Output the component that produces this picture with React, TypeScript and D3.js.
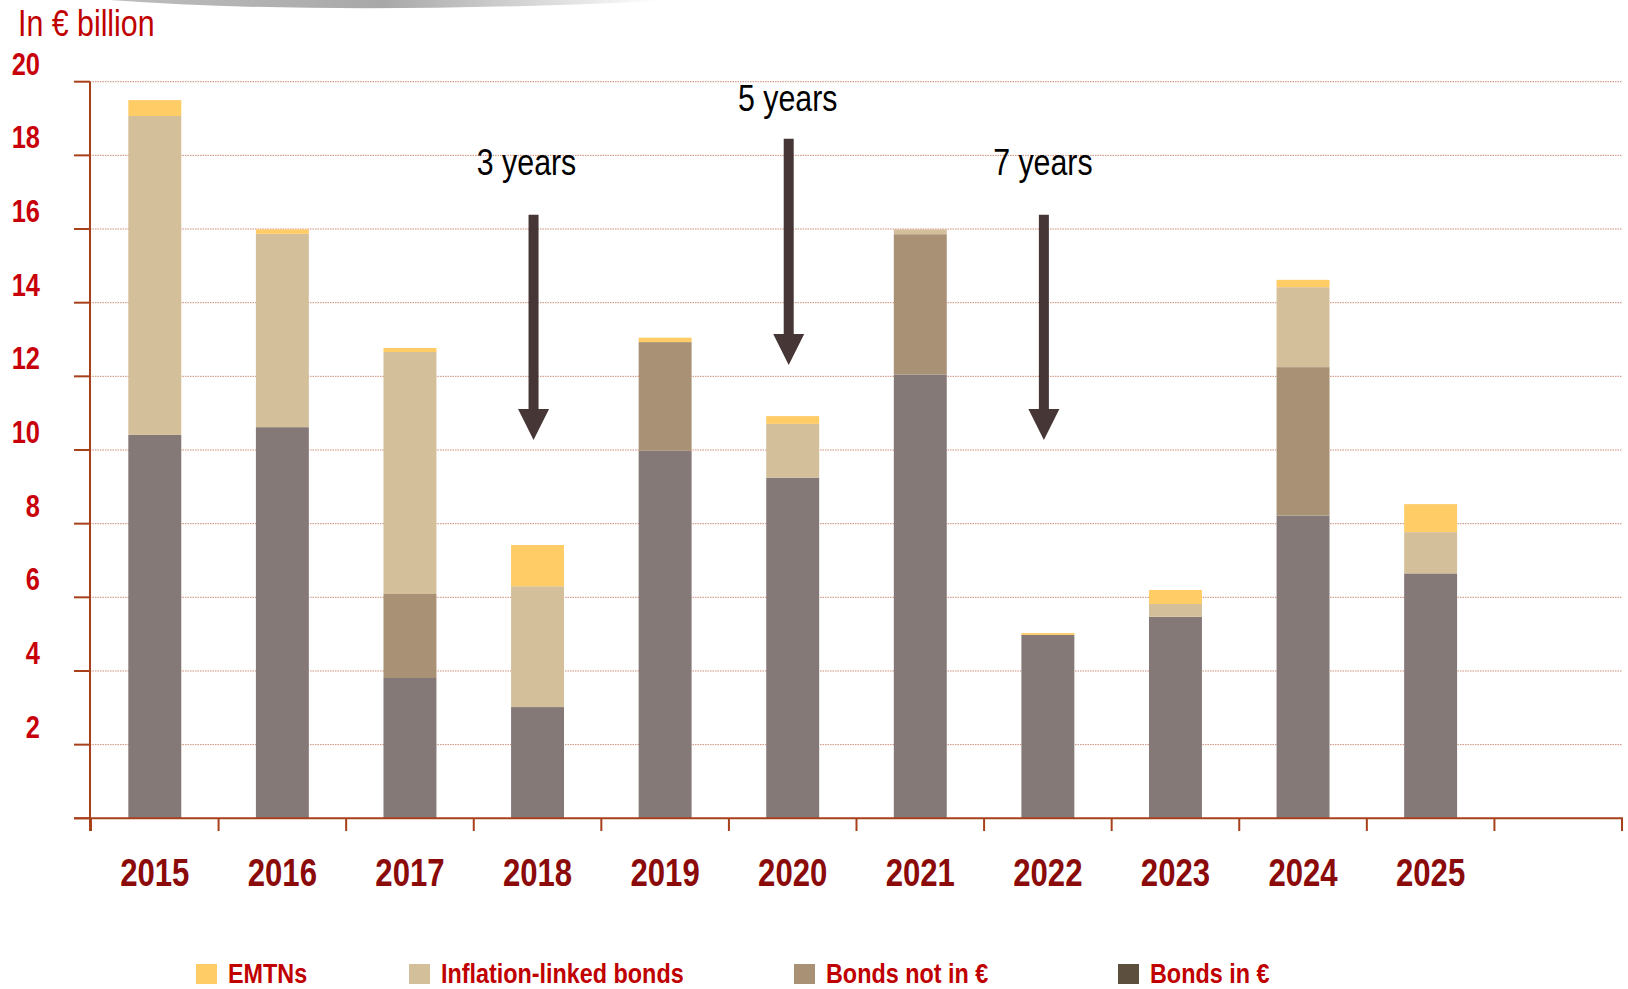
import React from "react";
import * as d3 from "d3";

const years = ["2015", "2016", "2017", "2018", "2019", "2020", "2021", "2022", "2023", "2024", "2025"];
const slots = [...years, ""];
const bondsEur = [10.41, 10.62, 3.81, 3.02, 9.98, 9.25, 12.05, 4.98, 5.47, 8.22, 6.65];
const bondsNotEur = [0, 0, 2.28, 0, 2.95, 0, 3.81, 0, 0, 4.03, 0];
const inflationLinked = [8.66, 5.25, 6.57, 3.28, 0, 1.46, 0.13, 0, 0.35, 2.17, 1.12];
const emtns = [0.43, 0.12, 0.11, 1.12, 0.12, 0.21, 0, 0.05, 0.38, 0.2, 0.76];
const yTicks = [2, 4, 6, 8, 10, 12, 14, 16, 18, 20];
const gridTicks = [0, 2, 4, 6, 8, 10, 12, 14, 16, 18, 20];

const seriesKeys = ["bondsEur", "bondsNotEur", "inflation", "emtn"];
const barColors: Record<string, string> = {
  bondsEur: "#857978",
  bondsNotEur: "#a89175",
  inflation: "#d4bf9b",
  emtn: "#ffcc66",
};
const legendItems = [
  { label: "EMTNs", color: "#ffcc66" },
  { label: "Inflation-linked bonds", color: "#d4bf9b" },
  { label: "Bonds not in €", color: "#a89175" },
  { label: "Bonds in €", color: "#5c4f3d" },
];
const annotations = [
  { year: "2018", label: "3 years", labelAt: 17.47, from: 16.39, to: 10.27, dx: -7 },
  { year: "2020", label: "5 years", labelAt: 19.21, from: 18.45, to: 12.31, dx: -1 },
  { year: "2022", label: "7 years", labelAt: 17.47, from: 16.39, to: 10.27, dx: -1 },
];

const W = 1628;
const H = 989;
const FONT = "'Liberation Sans', Arial, sans-serif";
const SX = 0.82;

function NText(props: {
  x: number;
  y: number;
  anchor?: string;
  size: number;
  bold?: boolean;
  fill: string;
  children: React.ReactNode;
}) {
  return (
    <text
      transform={`translate(${props.x},${props.y}) scale(${SX},1)`}
      textAnchor={props.anchor || "start"}
      fill={props.fill}
      fontFamily={FONT}
      fontWeight={props.bold ? "bold" : "normal"}
      fontSize={props.size}
    >
      {props.children}
    </text>
  );
}

export default function App() {
  const x = d3.scaleBand<string>().domain(slots).range([91, 1622]).paddingInner(0.585).paddingOuter(0.2925);
  const y = d3.scaleLinear().domain([0, 20]).range([818.3, 81.7]);
  const step = x.step();
  const slotLeft = (c: string) => (x(c) as number) - (step * 0.585) / 2;

  const rows = years.map((yr, i) => ({
    year: yr,
    bondsEur: bondsEur[i],
    bondsNotEur: bondsNotEur[i],
    inflation: inflationLinked[i],
    emtn: emtns[i],
  }));
  const stacked = d3.stack<any>().keys(seriesKeys)(rows);

  const legendX = [196, 409, 794, 1118];

  return (
    <div style={{ position: "absolute", left: 0, top: 0 }}>
      <svg width={W} height={H} style={{ display: "block" }}>
        <defs>
          <linearGradient id="swoosh" x1="0" x2="1" y1="0" y2="0">
            <stop offset="0" stopColor="#bdbdbd" />
            <stop offset="0.5" stopColor="#a8a8a8" />
            <stop offset="1" stopColor="#ffffff" />
          </linearGradient>
        </defs>
        <rect width={W} height={H} fill="#ffffff" />
        <path d="M 110 0 Q 330 16 660 1 L 660 0 Z" fill="url(#swoosh)" />
        <NText x={18} y={36} size={37} fill="#c00000">
          In € billion
        </NText>

        {/* grid lines */}
        {gridTicks.map((t) => (
          <line
            key={"g" + t}
            x1={90}
            x2={1622}
            y1={y(t)}
            y2={y(t)}
            stroke="#c87a62"
            strokeWidth={1}
            strokeDasharray="1.5,1"
            opacity={t === 0 ? 0 : 0.85}
          />
        ))}

        {/* bars */}
        {stacked.map((s) => (
          <g key={s.key} fill={barColors[s.key]}>
            {s.map((d: any, i: number) =>
              d[1] - d[0] > 0 ? (
                <rect
                  key={i}
                  x={x(d.data.year)}
                  width={x.bandwidth()}
                  y={y(d[1])}
                  height={y(d[0]) - y(d[1])}
                />
              ) : null
            )}
          </g>
        ))}

        {/* y axis */}
        <line x1={90} x2={90} y1={y(20)} y2={831} stroke="#a8401c" strokeWidth={2} />
        {gridTicks.map((t) => (
          <line key={"yt" + t} x1={74} x2={90} y1={y(t)} y2={y(t)} stroke="#a8401c" strokeWidth={2} />
        ))}
        {yTicks.map((t) => (
          <NText key={"yl" + t} x={40} y={y(t) - 7} anchor="end" size={31} bold fill="#c8000a">
            {t}
          </NText>
        ))}

        {/* x axis */}
        <line x1={74} x2={1623} y1={y(0)} y2={y(0)} stroke="#a8401c" strokeWidth={2} />
        {slots.map((c) => (
          <line
            key={"xt" + c}
            x1={slotLeft(c)}
            x2={slotLeft(c)}
            y1={y(0)}
            y2={831}
            stroke="#a8401c"
            strokeWidth={2}
          />
        ))}
        <line x1={1622} x2={1622} y1={y(0)} y2={831} stroke="#a8401c" strokeWidth={2} />
        {years.map((c) => (
          <NText
            key={"xl" + c}
            x={(x(c) as number) + x.bandwidth() / 2}
            y={886}
            anchor="middle"
            size={38}
            bold
            fill="#8b0a0a"
          >
            {c}
          </NText>
        ))}

        {/* annotations */}
        {annotations.map((a) => {
          const cx = (x(a.year) as number) + x.bandwidth() / 2 - 4;
          const headH = 31;
          const headW = 31;
          const shaftW = 10;
          const top = y(a.from);
          const tip = y(a.to);
          return (
            <g key={a.label}>
              <NText x={cx + a.dx} y={y(a.labelAt)} anchor="middle" size={37} fill="#000000">
                {a.label}
              </NText>
              <path
                d={`M ${cx - shaftW / 2} ${top} L ${cx + shaftW / 2} ${top} L ${cx + shaftW / 2} ${tip - headH} L ${cx + headW / 2} ${tip - headH} L ${cx} ${tip} L ${cx - headW / 2} ${tip - headH} L ${cx - shaftW / 2} ${tip - headH} Z`}
                fill="#463636"
              />
            </g>
          );
        })}

        {/* legend */}
        {legendItems.map((l, i) => (
          <g key={l.label}>
            <rect x={legendX[i]} y={964} width={21} height={20} fill={l.color} />
            <NText x={legendX[i] + 32} y={983} size={28.5} bold fill="#c00000">
              {l.label}
            </NText>
          </g>
        ))}
      </svg>
    </div>
  );
}
